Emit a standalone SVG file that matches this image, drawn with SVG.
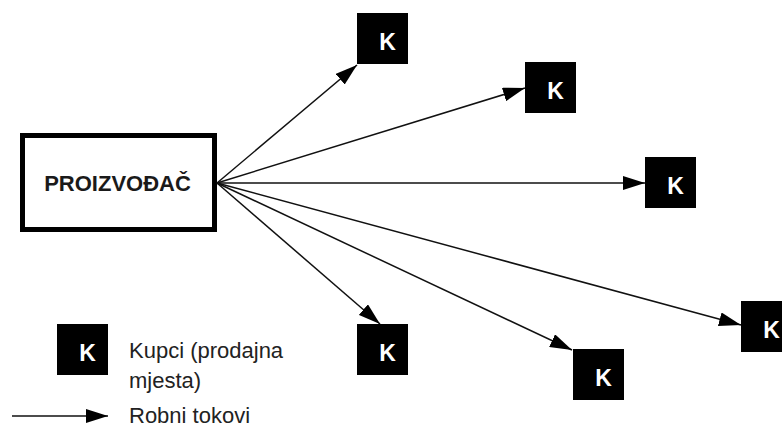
<svg xmlns="http://www.w3.org/2000/svg" width="782" height="432" viewBox="0 0 782 432">
<defs>
<style>
.k rect{fill:#000}
.k text{fill:#fff;font-family:"Liberation Sans",Arial,sans-serif;font-weight:bold;font-size:23px;text-anchor:middle}
.edge{stroke:#111;stroke-width:1.5;fill:none;marker-end:url(#ah)}
.lbl{fill:#222;font-family:"Liberation Sans",Arial,sans-serif;font-size:22px}
</style>
<marker id="ah" markerUnits="userSpaceOnUse" markerWidth="22" markerHeight="14" refX="22" refY="7" orient="auto">
<path d="M0,0 L22,7 L0,14 z" fill="#000"/>
</marker>
</defs>
<rect width="782" height="432" fill="#fff"/>
<g id="proizvodac">
<rect x="22.5" y="135.5" width="192" height="94" fill="#fff" stroke="#000" stroke-width="5"/>
<text x="117.5" y="191" text-anchor="middle" fill="#1a1a1a" font-family="Liberation Sans, Arial, sans-serif" font-weight="bold" font-size="22">PROIZVOĐAČ</text>
</g>
<g id="connectors">
<line class="edge" x1="217" y1="183" x2="357" y2="65"/>
<line class="edge" x1="217" y1="183" x2="525" y2="88"/>
<line class="edge" x1="217" y1="183" x2="645" y2="183"/>
<line class="edge" x1="217" y1="183" x2="380" y2="324"/>
<line class="edge" x1="217" y1="183" x2="572" y2="350"/>
<line class="edge" x1="217" y1="183" x2="741" y2="325"/>
</g>
<g id="k1" class="k"><rect x="357" y="13" width="51" height="51"/><text x="387.5" y="50">K</text></g>
<g id="k2" class="k"><rect x="525" y="62" width="51" height="51"/><text x="555.5" y="99">K</text></g>
<g id="k3" class="k"><rect x="645" y="157" width="51" height="51"/><text x="675.5" y="194">K</text></g>
<g id="k4" class="k"><rect x="357" y="324" width="51" height="51"/><text x="387.5" y="361">K</text></g>
<g id="k5" class="k"><rect x="573" y="349" width="51" height="51"/><text x="603.5" y="386">K</text></g>
<g id="k6" class="k"><rect x="741" y="301" width="51" height="51"/><text x="771.5" y="338">K</text></g>
<g id="legend">
<g id="legend-k" class="k"><rect x="57" y="324" width="51" height="51"/><text x="87.5" y="361">K</text></g>
<text class="lbl" x="129" y="358">Kupci (prodajna</text>
<text class="lbl" x="129" y="388">mjesta)</text>
<line class="edge" x1="12" y1="416" x2="108" y2="416"/>
<text class="lbl" x="129" y="423">Robni tokovi</text>
</g>
</svg>
